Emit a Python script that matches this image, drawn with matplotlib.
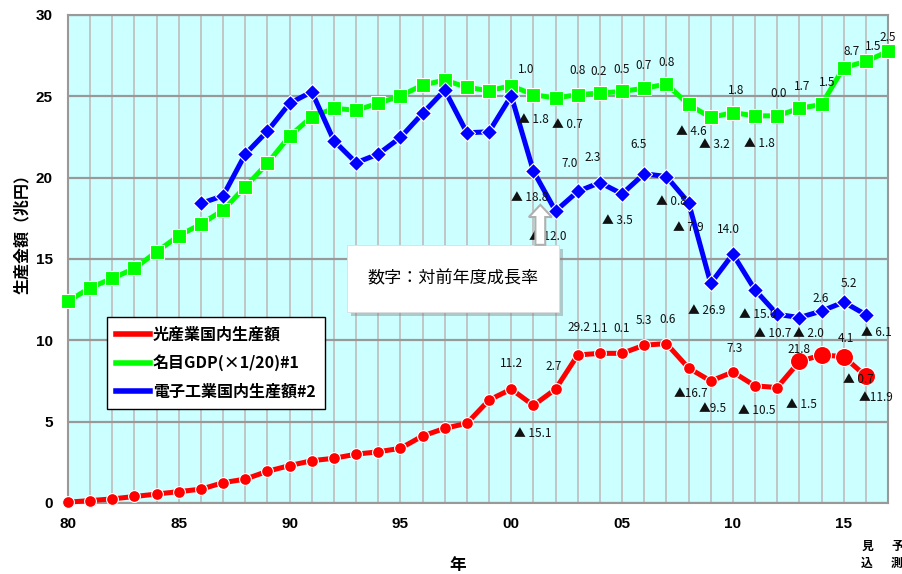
import matplotlib
matplotlib.use('Agg')
import matplotlib.pyplot as plt
from matplotlib.lines import Line2D
from matplotlib.patches import Rectangle, FancyArrow

plt.rcParams['font.family'] = ['Liberation Sans', 'DejaVu Sans', 'Noto Sans CJK JP']
JP = ['Noto Sans CJK JP', 'DejaVu Sans']

# 光産業国内生産額 (兆円), 1980-2016
hikari_years = list(range(1980, 2017))
hikari = [0.05, 0.15, 0.25, 0.4, 0.55, 0.7, 0.85, 1.25, 1.47, 1.95, 2.3, 2.6, 2.75, 3.0, 3.15,
          3.36, 4.12, 4.59, 4.9, 6.33, 7.0, 6.0, 7.0, 9.1, 9.2, 9.2, 9.7, 9.8, 8.3, 7.5,
          8.05, 7.2, 7.1, 8.7, 9.1, 9.0, 7.8]

# 名目GDP (x1/20), 1980-2017
gdp_years = list(range(1980, 2018))
gdp = [12.4, 13.23, 13.81, 14.42, 15.45, 16.43, 17.15, 18.0, 19.44, 20.88, 22.56, 23.74, 24.26,
       24.15, 24.57, 25.03, 25.69, 26.0, 25.55, 25.35, 25.65, 25.1, 24.9, 25.1, 25.2, 25.3,
       25.5, 25.75, 24.5, 23.7, 24.0, 23.8, 23.8, 24.26, 24.5, 26.76, 27.15, 27.76]

# 電子工業国内生産額, 1986-2016
denshi_years = list(range(1986, 2017))
denshi = [18.42, 18.89, 21.45, 22.86, 24.57, 25.28, 22.27, 20.92, 21.45, 22.47, 23.95, 25.38,
          22.76, 22.82, 25.03, 20.4, 17.95, 19.15, 19.7, 19.0, 20.24, 20.07, 18.47, 13.5,
          15.3, 13.1, 11.6, 11.4, 11.8, 12.35, 11.58]

# growth rate labels (対前年度成長率)
gdp_rate_years = list(range(2000, 2018))
gdp_rate = ['1.0', '▲ 1.8', '▲ 0.7', '0.8', '0.2', '0.5', '0.7', '0.8', '▲ 4.6', '▲ 3.2',
            '1.8', '▲ 1.8', '0.0', '1.7', '1.5', '8.7', '1.5', '2.5']
denshi_rate_years = list(range(2001, 2017))
denshi_rate = ['▲ 18.8', '▲ 12.0', '7.0', '2.3', '▲ 3.5', '6.5', '▲ 0.8', '▲ 7.9', '▲ 26.9',
               '14.0', '▲ 15.0', '▲ 10.7', '▲ 2.0', '2.6', '5.2', '▲ 6.1']
hikari_rate_years = list(range(2000, 2017))
hikari_rate = ['11.2', '▲ 15.1', '2.7', '29.2', '1.1', '0.1', '5.3', '0.6', '▲16.7', '▲9.5',
               '7.3', '▲ 10.5', '▲ 1.5', '21.8', '4.1', '▲ 0.7', '▲11.9']

# label offsets from the marker, in pixels (x right, y down)
gdp_off = [(15, -16), (0, 25), (12, 27), (0, -24), (-1, -22), (0, -22), (-1, -23), (0, -22),
           (3, 27), (4, 27), (3, -22), (4, 28), (1, -22), (3, -22), (6, -22), (8, -16),
           (7, -15), (0, -14)]
denshi_off = [(-4, 26), (-8, 25), (-8, -28), (-7, -25), (-5, 27), (-6, -29), (5, 25), (0, 25),
              (-4, 27), (-4, -25), (3, 25), (-5, 19), (9, 16), (-1, -13), (5, -19), (11, 18)]
hikari_off = [(0, -26), (-1, 28), (-2, -23), (1, -27), (0, -25), (0, -25), (0, -25), (1, -24),
              (2, 26), (2, 27), (2, -24), (2, 25), (24, 17), (0, -12), (24, -16), (15, 23),
              (10, 21)]

x_ticks = [1980, 1985, 1990, 1995, 2000, 2005, 2010, 2015]
x_labels = ['80', '85', '90', '95', '00', '05', '10', '15']

fig = plt.figure(figsize=(9.03, 5.74), dpi=100)
ax = fig.add_axes([68 / 903, 1 - 503 / 574, 820 / 903, 488 / 574])
ax.set_facecolor('#ccffff')
ax.set_xlim(1980, 2017)
ax.set_ylim(0, 30)

ax.set_xticks(x_ticks)
ax.set_xticklabels(x_labels)
ax.set_xticks(range(1980, 2018), minor=True)
ax.set_yticks(range(0, 31, 5))
ax.tick_params(which='both', length=0)
ax.tick_params(axis='x', pad=10, labelsize=11)
ax.tick_params(axis='y', pad=11, labelsize=11)
for lab in ax.get_xticklabels() + ax.get_yticklabels():
    lab.set_fontweight('bold')
ax.xaxis.grid(True, which='both', color='#c0c0c0', lw=1.3)
ax.yaxis.grid(True, which='major', color='#999999', lw=1.6)
ax.set_axisbelow(True)
for s in ax.spines.values():
    s.set_color('#999999')
    s.set_linewidth(1.5)

ax.plot(gdp_years, gdp, color='#00ff00', lw=3.6, marker='s', ms=9.5, mec='white', mew=0.8,
        clip_on=False, zorder=3)
ax.plot(denshi_years, denshi, color='#0000ff', lw=3.6, marker='D', ms=8, mec='white', mew=0.8,
        clip_on=False, zorder=4)
ax.plot(hikari_years, hikari, color='#ff0000', lw=3.6, marker='o', ms=8.5, mec='white', mew=0.8,
        markevery=slice(0, 33), clip_on=False, zorder=5)
ax.plot(hikari_years[33:], hikari[33:], ls='none', marker='o', color='#ff0000', ms=13,
        mec='white', mew=0.8, clip_on=False, zorder=5)

def put_rates(xs, ys, yrs, texts, offs):
    lookup = dict(zip(xs, ys))
    for yr, t, (dx, dy) in zip(yrs, texts, offs):
        ax.annotate(t, xy=(yr, lookup[yr]), xytext=(dx, -dy), textcoords='offset pixels',
                    ha='center', va='center', fontsize=8.5, color='#111111', family=JP,
                    zorder=6)

put_rates(gdp_years, gdp, gdp_rate_years, gdp_rate, gdp_off)
put_rates(denshi_years, denshi, denshi_rate_years, denshi_rate, denshi_off)
put_rates(hikari_years, hikari, hikari_rate_years, hikari_rate, hikari_off)

# note box with shadow and arrow
bx0, by0, bw, bh = 0.340, 0.392, 0.259, 0.137
ax.add_patch(Rectangle((bx0 + 0.005, by0 - 0.008), bw, bh, transform=ax.transAxes,
                       facecolor='#888888', alpha=0.45, edgecolor='none', zorder=7))
ax.add_patch(Rectangle((bx0, by0), bw, bh, transform=ax.transAxes,
                       facecolor='white', edgecolor='#dddddd', lw=0.6, zorder=8))
ax.text(bx0 + bw / 2, by0 + bh / 2, '数字：対前年度成長率', transform=ax.transAxes,
        ha='center', va='center', fontsize=12.3, family=JP, zorder=9)
ax.add_patch(FancyArrow(0.576, by0 + bh, 0, 0.082, width=0.012, head_width=0.028,
                        head_length=0.025, length_includes_head=True, transform=ax.transAxes,
                        facecolor='white', edgecolor='#b0b0b0', lw=1.5, zorder=8))

handles = [Line2D([], [], color='#ff0000', lw=4),
           Line2D([], [], color='#00ff00', lw=4),
           Line2D([], [], color='#0000ff', lw=4)]
names = ['光産業国内生産額', '名目GDP(×1/20)#1', '電子工業国内生産額#2']
leg = ax.legend(handles, names, loc='upper left', bbox_to_anchor=(0.047, 0.381),
                borderaxespad=0, frameon=True, fancybox=False, edgecolor='black',
                framealpha=1, handlelength=2.1, handletextpad=0.2, labelspacing=0.75,
                borderpad=0.6, prop={'family': JP, 'weight': 'bold', 'size': 11.5})
leg.get_frame().set_linewidth(1.0)
leg.set_zorder(10)

fig.text(22 / 903, 1 - 230 / 574, '生産金額（兆円）', rotation=90, ha='center', va='center',
         fontsize=11.5, fontweight='bold', family=JP)
fig.text(458 / 903, 1 - 565 / 574, '年', ha='center', va='center', fontsize=12,
         fontweight='bold', family=JP)
fig.text(867 / 903, 1 - 555 / 574, '見\n込', ha='center', va='center', fontsize=8.5,
         fontweight='bold', family=JP, linespacing=1.45)
fig.text(897 / 903, 1 - 555 / 574, '予\n測', ha='center', va='center', fontsize=8.5,
         fontweight='bold', family=JP, linespacing=1.45)

plt.savefig('out.png', dpi=100)
